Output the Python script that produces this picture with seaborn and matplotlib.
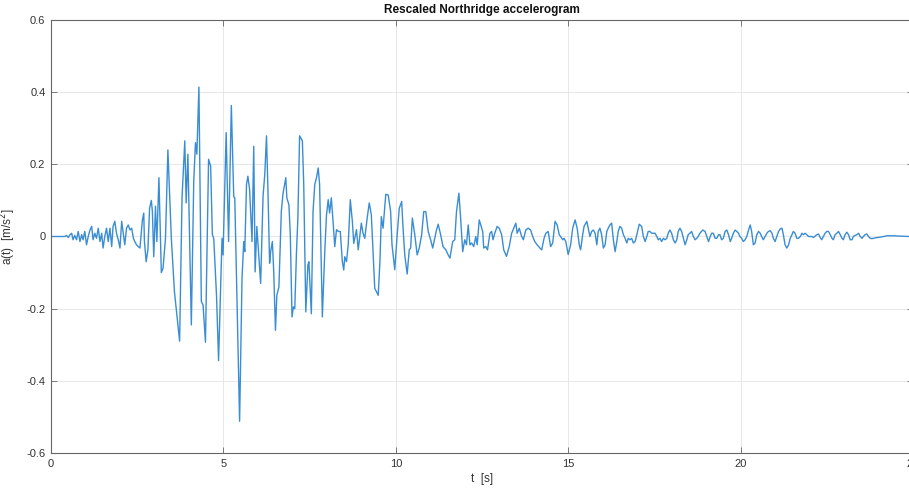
import numpy as np
import pandas as pd
import matplotlib
matplotlib.use("Agg")
import matplotlib.pyplot as plt
import seaborn as sns

# ---- data (time [s], acceleration [m/s^2]) ----
t_early = [0.0, 0.40, 0.45, 0.50, 0.55, 0.60, 0.64, 0.69, 0.74, 0.79, 0.84, 0.89, 0.93, 0.98,
           1.03, 1.08, 1.13, 1.18, 1.22, 1.27, 1.32, 1.37, 1.42, 1.47, 1.51, 1.56, 1.61, 1.66,
           1.71, 1.76, 1.80, 1.85, 1.90, 1.95, 2.00, 2.05, 2.10, 2.14, 2.19, 2.24, 2.29, 2.34,
           2.39, 2.43, 2.48, 2.53, 2.58]
a_early = [0.0, 0.0, 0.003, -0.003, 0.005, 0.009, -0.009, 0.003, -0.009, 0.014, -0.014, 0.005,
           -0.009, 0.014, -0.023, 0.0, 0.018, 0.028, -0.009, 0.009, -0.005, 0.023, -0.014, 0.009,
           -0.032, 0.0, 0.023, -0.014, 0.023, -0.028, 0.028, 0.042, 0.009, -0.009, -0.032, 0.042,
           0.005, -0.023, 0.023, 0.032, 0.018, 0.023, -0.005, -0.014, -0.023, -0.028, -0.032]

t_strong = [2.65, 2.69, 2.71, 2.76, 2.81, 2.86, 2.91, 2.94, 2.98, 3.03, 3.07, 3.13, 3.20, 3.25,
            3.32, 3.39, 3.49, 3.58, 3.73, 3.80, 3.88, 3.92, 3.97, 4.02, 4.07, 4.14, 4.19, 4.23,
            4.29, 4.36, 4.41, 4.48, 4.57, 4.63, 4.68, 4.72, 4.80, 4.86, 4.96, 4.99, 5.08, 5.15,
            5.23, 5.30, 5.33, 5.39, 5.47, 5.54, 5.59, 5.62, 5.67, 5.71, 5.76, 5.83, 5.88, 5.92,
            5.97, 6.02, 6.08, 6.15, 6.20, 6.25, 6.29, 6.34, 6.37, 6.42, 6.46, 6.51, 6.55, 6.61,
            6.68, 6.73, 6.81, 6.84, 6.90, 6.94, 6.99, 7.03, 7.07, 7.12, 7.16, 7.21, 7.29, 7.33,
            7.39, 7.45, 7.48, 7.55, 7.60, 7.65, 7.70, 7.75, 7.79, 7.84, 7.87, 7.94, 7.99]
a_strong = [0.045, 0.065, -0.014, -0.07, -0.037, 0.079, 0.10, 0.07, -0.056, 0.084, -0.014, 0.163,
            -0.10, -0.088, -0.005, 0.24, -0.005, -0.153, -0.29, 0.107, 0.265, 0.093, 0.228, -0.005,
            -0.245, 0.153, 0.26, 0.228, 0.414, -0.18, -0.19, -0.293, 0.214, 0.195, 0.005, -0.005,
            -0.163, -0.344, -0.005, -0.051, 0.288, -0.014, 0.363, 0.11, 0.107, -0.163, -0.512,
            -0.116, -0.014, -0.042, 0.144, 0.167, 0.130, -0.014, 0.25, -0.098, 0.028, -0.042,
            -0.13, 0.112, 0.172, 0.279, 0.135, -0.074, -0.042, -0.014, -0.098, -0.26, -0.163,
            -0.14, 0.070, 0.12, 0.163, 0.107, 0.088, 0.005, -0.223, -0.195, -0.20, -0.042, 0.051,
            0.279, 0.265, 0.144, -0.209, -0.079, -0.07, -0.214, 0.070, 0.144, 0.163, 0.19, 0.144,
            -0.088, -0.223, -0.042, 0.060]

t_mid = [8.04, 8.08, 8.13, 8.18, 8.23, 8.28, 8.33, 8.39, 8.45, 8.49, 8.52, 8.57, 8.62, 8.68,
         8.74, 8.78, 8.86, 8.91, 8.96, 9.00, 9.05, 9.10, 9.17, 9.23, 9.29, 9.34, 9.39, 9.44,
         9.49, 9.54, 9.58, 9.63, 9.71, 9.78, 9.85, 9.89, 9.97, 10.04, 10.10, 10.17, 10.21,
         10.26, 10.33, 10.39, 10.43, 10.48, 10.55, 10.62, 10.68, 10.75, 10.81, 10.87, 10.94,
         11.01, 11.07, 11.13, 11.18, 11.23, 11.30, 11.37, 11.45, 11.52, 11.57, 11.65, 11.71,
         11.76, 11.83, 11.88, 11.94, 12.00, 12.05, 12.10, 12.15, 12.20, 12.26, 12.32, 12.36,
         12.42]
a_mid = [0.102, 0.065, 0.107, 0.042, -0.028, 0.019, 0.014, 0.014, -0.07, -0.093, -0.056, -0.07,
         -0.023, 0.102, 0.042, -0.019, 0.019, -0.037, 0.005, 0.037, 0.009, -0.005, 0.051, 0.093,
         0.060, -0.042, -0.144, -0.153, -0.163, -0.069, 0.055, 0.023, 0.117, 0.115, 0.069,
         -0.023, -0.092, 0.005, 0.078, 0.097, 0.023, -0.051, -0.104, -0.037, -0.032, 0.051,
         0.005, -0.051, -0.032, 0.005, 0.069, 0.069, 0.014, -0.009, -0.032, -0.005, 0.018,
         0.034, 0.005, -0.028, -0.037, -0.051, -0.06, -0.014, -0.009, 0.069, 0.12, 0.051,
         -0.042, -0.009, -0.023, 0.032, -0.023, -0.018, -0.028, 0.0, -0.023, 0.046]

t_late = [12.52, 12.55, 12.61, 12.66, 12.73, 12.78, 12.82, 12.87, 12.94, 13.00, 13.07, 13.13,
          13.21, 13.29, 13.36, 13.40, 13.48, 13.52, 13.58, 13.65, 13.70, 13.77, 13.84, 13.91,
          13.97, 14.03, 14.10, 14.18, 14.23, 14.30, 14.35, 14.42, 14.49, 14.55, 14.62, 14.68,
          14.74, 14.78, 14.84, 14.88, 14.93, 15.00, 15.07, 15.13, 15.20, 15.26, 15.32, 15.36,
          15.42, 15.46, 15.54, 15.58, 15.63, 15.68, 15.73, 15.78, 15.83, 15.87, 15.92, 15.97,
          16.02, 16.07, 16.12, 16.16, 16.21, 16.26, 16.31, 16.36, 16.41, 16.45, 16.50, 16.55,
          16.60, 16.65, 16.70, 16.74, 16.79, 16.84, 16.89, 16.94, 16.99, 17.06, 17.13, 17.18,
          17.23, 17.28, 17.32, 17.37, 17.42, 17.47, 17.52, 17.57, 17.61, 17.66, 17.71, 17.76,
          17.81, 17.86, 17.90, 17.95, 18.00, 18.05, 18.10, 18.15, 18.19, 18.24, 18.29, 18.34,
          18.39, 18.44, 18.48, 18.53, 18.58, 18.63, 18.68, 18.73, 18.77, 18.82, 18.90, 18.97,
          19.02, 19.07, 19.12, 19.16, 19.21, 19.26, 19.31, 19.36, 19.40, 19.45, 19.50, 19.55,
          19.60, 19.65, 19.70, 19.74, 19.79, 19.84, 19.89, 19.94, 19.98]
a_late = [0.014, -0.032, -0.028, -0.037, 0.009, 0.014, -0.009, 0.009, 0.028, 0.023, 0.005,
          -0.037, -0.055, -0.028, 0.009, 0.018, 0.037, 0.009, 0.023, 0.0, -0.009, 0.018, 0.023,
          0.018, 0.0, -0.014, -0.023, -0.032, -0.037, -0.005, 0.009, 0.014, -0.028, -0.018,
          0.042, 0.032, 0.005, 0.0, -0.009, -0.005, -0.014, -0.05, -0.023, 0.023, 0.046, 0.023,
          -0.023, -0.037, 0.005, 0.028, 0.042, 0.023, 0.0, 0.014, 0.018, 0.009, -0.023, 0.014,
          0.023, 0.005, -0.032, -0.023, 0.014, 0.023, 0.032, 0.037, -0.009, -0.042, -0.014,
          0.014, 0.028, 0.023, 0.005, -0.005, -0.018, -0.005, -0.009, -0.005, -0.018, -0.014,
          0.005, 0.034, 0.028, 0.0, -0.014, 0.0, 0.014, 0.014, 0.009, 0.009, 0.009, 0.0, -0.009,
          -0.005, -0.014, -0.005, -0.009, -0.005, 0.009, 0.018, 0.009, -0.009, -0.018, -0.009,
          0.014, 0.023, 0.014, -0.005, -0.023, -0.009, 0.005, 0.009, 0.014, 0.0, -0.009, -0.005,
          0.0, 0.009, 0.018, 0.014, 0.0, -0.014, 0.0, 0.009, 0.009, -0.005, -0.005, 0.005,
          0.005, -0.009, -0.005, 0.014, 0.018, 0.005, -0.014, -0.005, 0.009, 0.018, 0.014,
          0.009, 0.0]

t_tail = [20.03, 20.08, 20.13, 20.18, 20.23, 20.28, 20.32, 20.37, 20.42, 20.47, 20.52, 20.57,
          20.61, 20.66, 20.71, 20.76, 20.81, 20.86, 20.91, 20.95, 21.00, 21.05, 21.10, 21.15,
          21.20, 21.24, 21.29, 21.34, 21.39, 21.44, 21.49, 21.53, 21.58, 21.63, 21.68, 21.73,
          21.78, 21.82, 21.87, 21.92, 21.97, 22.07, 22.11, 22.21, 22.26, 22.31, 22.35, 22.40,
          22.45, 22.50, 22.55, 22.60, 22.65, 22.69, 22.74, 22.79, 22.84, 22.89, 22.94, 22.98,
          23.03, 23.08, 23.13, 23.18, 23.23, 23.27, 23.32, 23.37, 23.42, 23.47, 23.52, 23.56,
          23.61, 23.66, 23.71, 23.76, 23.81, 23.85, 23.95, 24.05, 24.15, 24.24, 24.44, 24.63,
          24.89, 25.0]
a_tail = [-0.005, -0.014, -0.009, 0.0, 0.018, 0.032, 0.014, -0.023, -0.018, 0.005, 0.014, 0.009,
          0.0, -0.009, 0.0, 0.009, 0.014, 0.016, 0.009, -0.005, -0.014, 0.0, 0.014, 0.021,
          0.023, 0.005, -0.023, -0.032, -0.023, -0.005, 0.005, 0.014, 0.009, -0.005, -0.005,
          0.0, 0.009, 0.005, 0.009, 0.005, 0.0, 0.0, -0.003, 0.005, 0.007, -0.003, -0.009, 0.0,
          0.009, 0.014, 0.014, 0.005, -0.005, -0.009, 0.005, 0.009, 0.014, 0.005, -0.005,
          -0.009, 0.005, 0.012, 0.005, -0.009, -0.009, 0.0, 0.003, 0.005, 0.009, 0.0, -0.005,
          0.0, 0.005, 0.007, 0.0, -0.005, -0.006, -0.005, -0.003, -0.002, 0.0, 0.002, 0.002,
          0.001, 0.0, 0.0]

x_ticks = [0, 5, 10, 15, 20, 25]
y_ticks = [-0.6, -0.4, -0.2, 0, 0.2, 0.4, 0.6]
y_tick_labels = ["-0.6", "-0.4", "-0.2", "0", "0.2", "0.4", "0.6"]

title = "Rescaled Northridge accelerogram"
xlabel = "t  [s]"
ylabel = "a(t)  [m/s$^2$]"

df = pd.DataFrame({
    "t": t_early + t_strong + t_mid + t_late + t_tail,
    "a": a_early + a_strong + a_mid + a_late + a_tail,
})

sns.set_theme(style="white")
plt.rcParams["font.family"] = ["Liberation Sans", "DejaVu Sans"]

fig = plt.figure(figsize=(9.09, 4.90), dpi=100)
ax = fig.add_axes([51 / 909, 37 / 490, 862 / 909, 433 / 490])

sns.lineplot(data=df, x="t", y="a", ax=ax, color="#3a8dd3", linewidth=1.0,
             estimator=None, sort=False)

ax.set_xlim(0, 25)
ax.set_ylim(-0.6, 0.6)
ax.set_xticks(x_ticks)
ax.set_xticklabels([str(v) for v in x_ticks])
ax.set_yticks(y_ticks)
ax.set_yticklabels(y_tick_labels)
ax.grid(True, color="#e3e3e3", linewidth=0.6)
ax.set_axisbelow(True)
for s in ax.spines.values():
    s.set_color("#666666")
    s.set_linewidth(0.8)
ax.tick_params(direction="in", length=4, width=0.6, colors="#666666",
               labelcolor="#333333", labelsize=8, top=True, right=True,
               bottom=True, left=True, pad=4)
ax.set_title(title, fontsize=8.5, fontweight="bold", color="#111111", pad=5)
ax.set_xlabel(xlabel, fontsize=8.5, color="#333333", labelpad=3)
ax.set_ylabel(ylabel, fontsize=8.5, color="#333333", labelpad=6)

fig.savefig("out.png", dpi=100)
